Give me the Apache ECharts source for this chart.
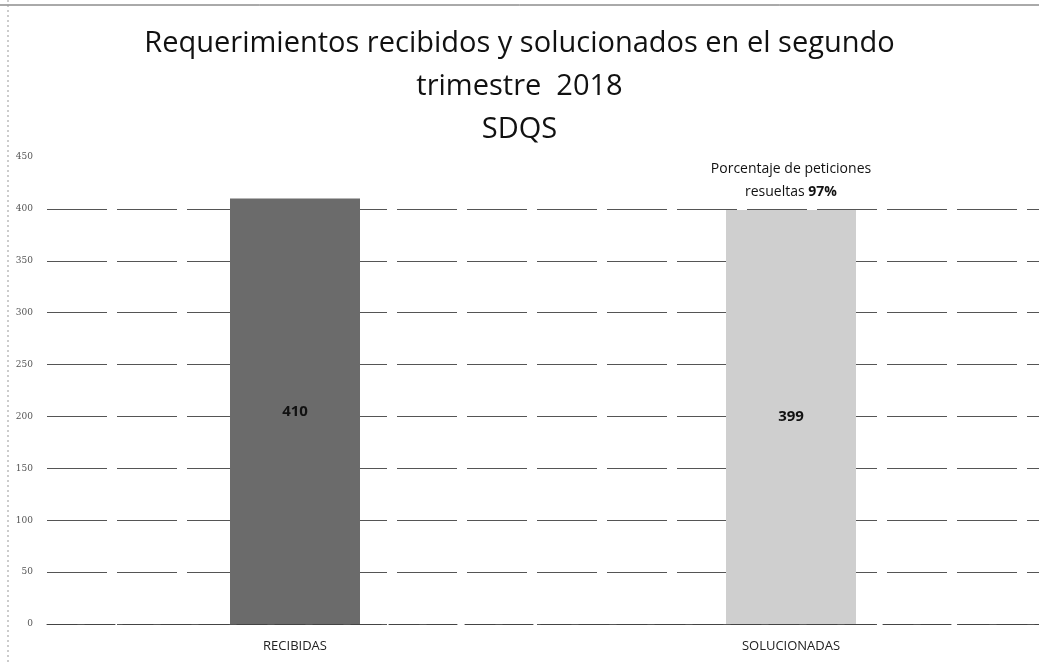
<!DOCTYPE html>
<html><head><meta charset="utf-8">
<script src="https://cdn.jsdelivr.net/npm/echarts@6/dist/echarts.min.js"></script>
<style>html,body{margin:0;padding:0;background:#fff}#c{width:1039px;height:664px}</style>
</head><body><div id="c"></div>
<script>
const categories = ['RECIBIDAS', 'SOLUCIONADAS'];
const values = [410, 399];
const barColors = ['#6b6b6b', '#cfcfcf'];
const titleLines = ['Requerimientos recibidos y solucionados en el segundo', 'trimestre  2018', 'SDQS'];
const annotationLines = ['Porcentaje de peticiones', 'resueltas ', '97%'];
const yTicks = [0, 50, 100, 150, 200, 250, 300, 350, 400, 450];

const chart = echarts.init(document.getElementById('c'));
chart.setOption({
  animation: false,
  title: {
    text: titleLines.join('\n'),
    left: 'center', top: 17,
    textStyle: { fontFamily: 'Open Sans', fontSize: 29, fontWeight: 500, color: '#111', lineHeight: 43 }
  },
  graphic: [
    { type: 'line', shape: { x1: 0, y1: 5, x2: 1039, y2: 5 }, style: { stroke: '#555', lineWidth: 1 } },
    { type: 'line', shape: { x1: 8, y1: 0, x2: 8, y2: 664 }, style: { stroke: '#999', lineWidth: 1, lineDash: [2, 3] } }
  ],
  grid: { left: 47, right: 0, top: 157, bottom: 40, containLabel: false },
  xAxis: {
    type: 'category', data: categories,
    axisLine: { lineStyle: { color: '#444', type: [30, 8] } },
    axisTick: { show: false },
    axisLabel: { fontFamily: 'Open Sans', fontSize: 13, color: '#222', margin: 16 }
  },
  yAxis: {
    type: 'value', min: 0, max: 450, interval: 50,
    axisLine: { show: false }, axisTick: { show: false },
    axisLabel: { fontFamily: 'DejaVu Serif', fontSize: 9, color: '#555', margin: 14,
      formatter: v => yTicks.includes(v) ? String(v) : '' },
    splitLine: { showMaxLine: false, lineStyle: { color: '#555', type: [60, 10], width: 1 } }
  },
  series: [{
    type: 'bar',
    barWidth: 130,
    data: values.map((v, i) => ({ value: v, itemStyle: { color: barColors[i] } })),
    label: { show: true, position: 'inside', fontFamily: 'Open Sans', fontSize: 15, fontWeight: 'bold', color: '#111' },
    markPoint: {
      symbolSize: 0,
      data: [{ coord: [categories[1], values[1]], value: 0 }],
      label: { show: true, position: 'top', distance: 6,
        formatter: annotationLines[0] + '\n' + annotationLines[1] + '{b|' + annotationLines[2] + '}',
        fontFamily: 'Open Sans', fontSize: 14, color: '#111', lineHeight: 23, align: 'center',
        rich: { b: { fontFamily: 'Open Sans', fontSize: 14, fontWeight: 'bold', color: '#111', lineHeight: 23 } } }
    }
  }]
});
</script></body></html>
